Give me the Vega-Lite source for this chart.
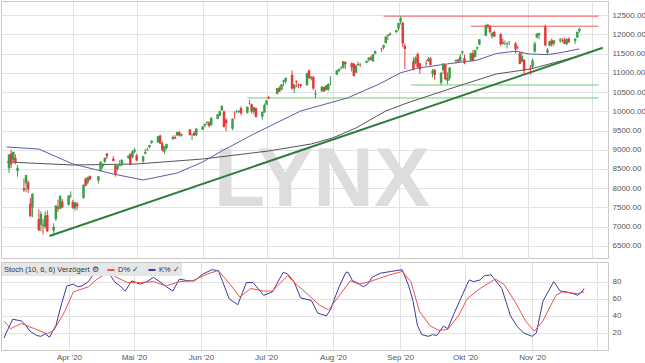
{
  "$schema": "https://vega.github.io/schema/vega-lite/v6.json",
  "padding": 0,
  "autosize": {"type": "pad"},
  "spacing": 2,
  "background": "white",
  "resolve": {"scale": {"color": "independent"}, "legend": {"color": "independent"}},
  "config": {
    "view": {"stroke": "#c8c8c8"},
    "font": "Liberation Sans",
    "axis": {"labelFont": "Liberation Sans", "labelFontSize": 8, "labelColor": "#555555", "gridColor": "#e2e2e2", "domain": false, "ticks": false, "labelOverlap": false}
  },
  "datasets": {
    "ohlc": [
      {"d":"2020-03-02","o":8520,"h":8880,"l":8400,"c":8877},
      {"d":"2020-03-03","o":8900,"h":9000,"l":8530,"c":8620},
      {"d":"2020-03-04","o":8730,"h":8950,"l":8680,"c":8945},
      {"d":"2020-03-05","o":8790,"h":8880,"l":8620,"c":8680},
      {"d":"2020-03-06","o":8450,"h":8600,"l":8300,"c":8530},
      {"d":"2020-03-09","o":8000,"h":8250,"l":7900,"c":7950},
      {"d":"2020-03-10","o":8130,"h":8350,"l":7900,"c":8340},
      {"d":"2020-03-11","o":8150,"h":8200,"l":7880,"c":7970},
      {"d":"2020-03-12","o":7600,"h":7750,"l":7260,"c":7270},
      {"d":"2020-03-13","o":7500,"h":7870,"l":7250,"c":7860},
      {"d":"2020-03-16","o":7200,"h":7450,"l":6900,"c":6905},
      {"d":"2020-03-17","o":7050,"h":7400,"l":6880,"c":7330},
      {"d":"2020-03-18","o":7050,"h":7200,"l":6800,"c":7020},
      {"d":"2020-03-19","o":7000,"h":7400,"l":6950,"c":7290},
      {"d":"2020-03-20","o":7300,"h":7420,"l":6870,"c":6880},
      {"d":"2020-03-23","o":6900,"h":7090,"l":6770,"c":6995},
      {"d":"2020-03-24","o":7200,"h":7560,"l":7150,"c":7550},
      {"d":"2020-03-25","o":7520,"h":7700,"l":7380,"c":7470},
      {"d":"2020-03-26","o":7470,"h":7820,"l":7450,"c":7800},
      {"d":"2020-03-27","o":7650,"h":7720,"l":7480,"c":7500},
      {"d":"2020-03-30","o":7570,"h":7820,"l":7550,"c":7810},
      {"d":"2020-03-31","o":7800,"h":7920,"l":7740,"c":7813},
      {"d":"2020-04-01","o":7650,"h":7700,"l":7460,"c":7490},
      {"d":"2020-04-02","o":7480,"h":7650,"l":7420,"c":7630},
      {"d":"2020-04-03","o":7600,"h":7640,"l":7440,"c":7530},
      {"d":"2020-04-06","o":7750,"h":8100,"l":7730,"c":8090},
      {"d":"2020-04-07","o":8250,"h":8270,"l":8050,"c":8070},
      {"d":"2020-04-08","o":8150,"h":8300,"l":8100,"c":8290},
      {"d":"2020-04-09","o":8320,"h":8330,"l":8200,"c":8230},
      {"d":"2020-04-13","o":8200,"h":8320,"l":8120,"c":8310},
      {"d":"2020-04-14","o":8450,"h":8700,"l":8440,"c":8690},
      {"d":"2020-04-15","o":8570,"h":8650,"l":8510,"c":8600},
      {"d":"2020-04-16","o":8690,"h":8800,"l":8650,"c":8790},
      {"d":"2020-04-17","o":8900,"h":8920,"l":8760,"c":8830},
      {"d":"2020-04-20","o":8770,"h":8830,"l":8700,"c":8710},
      {"d":"2020-04-21","o":8600,"h":8620,"l":8300,"c":8350},
      {"d":"2020-04-22","o":8500,"h":8610,"l":8460,"c":8590},
      {"d":"2020-04-23","o":8580,"h":8730,"l":8570,"c":8600},
      {"d":"2020-04-24","o":8620,"h":8750,"l":8570,"c":8740},
      {"d":"2020-04-27","o":8800,"h":8860,"l":8760,"c":8840},
      {"d":"2020-04-28","o":8900,"h":8900,"l":8600,"c":8610},
      {"d":"2020-04-29","o":8800,"h":8980,"l":8780,"c":8960},
      {"d":"2020-04-30","o":8950,"h":9050,"l":8910,"c":9000},
      {"d":"2020-05-01","o":8850,"h":8900,"l":8700,"c":8720},
      {"d":"2020-05-04","o":8700,"h":8840,"l":8650,"c":8830},
      {"d":"2020-05-05","o":8900,"h":9020,"l":8880,"c":8940},
      {"d":"2020-05-06","o":8990,"h":9050,"l":8960,"c":9000},
      {"d":"2020-05-07","o":9070,"h":9130,"l":9040,"c":9120},
      {"d":"2020-05-08","o":9180,"h":9240,"l":9150,"c":9240},
      {"d":"2020-05-11","o":9190,"h":9360,"l":9180,"c":9350},
      {"d":"2020-05-12","o":9370,"h":9390,"l":9150,"c":9160},
      {"d":"2020-05-13","o":9170,"h":9220,"l":8950,"c":9000},
      {"d":"2020-05-14","o":8950,"h":9100,"l":8890,"c":9090},
      {"d":"2020-05-15","o":9040,"h":9160,"l":9010,"c":9150},
      {"d":"2020-05-18","o":9280,"h":9370,"l":9250,"c":9330},
      {"d":"2020-05-19","o":9330,"h":9380,"l":9280,"c":9290},
      {"d":"2020-05-20","o":9370,"h":9470,"l":9360,"c":9460},
      {"d":"2020-05-21","o":9460,"h":9480,"l":9340,"c":9370},
      {"d":"2020-05-22","o":9370,"h":9420,"l":9340,"c":9410},
      {"d":"2020-05-26","o":9530,"h":9540,"l":9370,"c":9380},
      {"d":"2020-05-27","o":9400,"h":9420,"l":9250,"c":9410},
      {"d":"2020-05-28","o":9440,"h":9490,"l":9360,"c":9370},
      {"d":"2020-05-29","o":9380,"h":9560,"l":9350,"c":9550},
      {"d":"2020-06-01","o":9520,"h":9620,"l":9510,"c":9600},
      {"d":"2020-06-02","o":9630,"h":9680,"l":9580,"c":9670},
      {"d":"2020-06-03","o":9700,"h":9740,"l":9650,"c":9720},
      {"d":"2020-06-04","o":9710,"h":9740,"l":9580,"c":9620},
      {"d":"2020-06-05","o":9640,"h":9850,"l":9620,"c":9820},
      {"d":"2020-06-08","o":9800,"h":9930,"l":9790,"c":9920},
      {"d":"2020-06-09","o":9880,"h":10020,"l":9870,"c":10000},
      {"d":"2020-06-10","o":10030,"h":10160,"l":10010,"c":10130},
      {"d":"2020-06-11","o":9990,"h":10030,"l":9580,"c":9590},
      {"d":"2020-06-12","o":9780,"h":9820,"l":9480,"c":9690},
      {"d":"2020-06-15","o":9550,"h":9820,"l":9510,"c":9800},
      {"d":"2020-06-16","o":9960,"h":10000,"l":9800,"c":9950},
      {"d":"2020-06-17","o":9990,"h":10040,"l":9960,"c":10000},
      {"d":"2020-06-18","o":9980,"h":10020,"l":9950,"c":10010},
      {"d":"2020-06-19","o":10080,"h":10130,"l":9900,"c":9950},
      {"d":"2020-06-22","o":9960,"h":10120,"l":9940,"c":10120},
      {"d":"2020-06-23","o":10200,"h":10300,"l":10170,"c":10210},
      {"d":"2020-06-24","o":10180,"h":10200,"l":9940,"c":9990},
      {"d":"2020-06-25","o":9990,"h":10110,"l":9920,"c":10110},
      {"d":"2020-06-26","o":10080,"h":10090,"l":9840,"c":9850},
      {"d":"2020-06-29","o":9860,"h":9990,"l":9780,"c":9980},
      {"d":"2020-06-30","o":9970,"h":10200,"l":9960,"c":10160},
      {"d":"2020-07-01","o":10170,"h":10300,"l":10160,"c":10280},
      {"d":"2020-07-02","o":10370,"h":10400,"l":10310,"c":10340},
      {"d":"2020-07-06","o":10450,"h":10610,"l":10440,"c":10600},
      {"d":"2020-07-07","o":10600,"h":10650,"l":10500,"c":10510},
      {"d":"2020-07-08","o":10560,"h":10700,"l":10540,"c":10700},
      {"d":"2020-07-09","o":10760,"h":10820,"l":10650,"c":10800},
      {"d":"2020-07-10","o":10780,"h":10880,"l":10720,"c":10870},
      {"d":"2020-07-13","o":10950,"h":11060,"l":10560,"c":10590},
      {"d":"2020-07-14","o":10590,"h":10710,"l":10470,"c":10690},
      {"d":"2020-07-15","o":10790,"h":10800,"l":10620,"c":10760},
      {"d":"2020-07-16","o":10670,"h":10720,"l":10600,"c":10660},
      {"d":"2020-07-17","o":10700,"h":10710,"l":10610,"c":10660},
      {"d":"2020-07-20","o":10680,"h":11000,"l":10660,"c":10990},
      {"d":"2020-07-21","o":11060,"h":11080,"l":10840,"c":10860},
      {"d":"2020-07-22","o":10850,"h":10920,"l":10800,"c":10890},
      {"d":"2020-07-23","o":10890,"h":10920,"l":10550,"c":10590},
      {"d":"2020-07-24","o":10430,"h":10560,"l":10340,"c":10460},
      {"d":"2020-07-27","o":10520,"h":10650,"l":10510,"c":10640},
      {"d":"2020-07-28","o":10630,"h":10640,"l":10500,"c":10520},
      {"d":"2020-07-29","o":10550,"h":10680,"l":10540,"c":10670},
      {"d":"2020-07-30","o":10560,"h":10730,"l":10530,"c":10710},
      {"d":"2020-07-31","o":10900,"h":10910,"l":10670,"c":10905},
      {"d":"2020-08-03","o":10950,"h":11070,"l":10940,"c":11060},
      {"d":"2020-08-04","o":11050,"h":11110,"l":11010,"c":11100},
      {"d":"2020-08-05","o":11120,"h":11160,"l":11080,"c":11140},
      {"d":"2020-08-06","o":11130,"h":11300,"l":11110,"c":11300},
      {"d":"2020-08-07","o":11280,"h":11300,"l":11100,"c":11220},
      {"d":"2020-08-10","o":11250,"h":11260,"l":11030,"c":11140},
      {"d":"2020-08-11","o":11230,"h":11260,"l":10900,"c":10920},
      {"d":"2020-08-12","o":11000,"h":11210,"l":10990,"c":11190},
      {"d":"2020-08-13","o":11200,"h":11290,"l":11180,"c":11230},
      {"d":"2020-08-14","o":11230,"h":11250,"l":11150,"c":11220},
      {"d":"2020-08-17","o":11260,"h":11320,"l":11250,"c":11310},
      {"d":"2020-08-18","o":11330,"h":11400,"l":11290,"c":11390},
      {"d":"2020-08-19","o":11400,"h":11440,"l":11320,"c":11340},
      {"d":"2020-08-20","o":11300,"h":11490,"l":11280,"c":11480},
      {"d":"2020-08-21","o":11500,"h":11580,"l":11480,"c":11560},
      {"d":"2020-08-24","o":11640,"h":11650,"l":11540,"c":11630},
      {"d":"2020-08-25","o":11650,"h":11730,"l":11600,"c":11720},
      {"d":"2020-08-26","o":11770,"h":11950,"l":11760,"c":11940},
      {"d":"2020-08-27","o":11980,"h":12000,"l":11850,"c":11960},
      {"d":"2020-08-28","o":11980,"h":12050,"l":11960,"c":12020},
      {"d":"2020-08-31","o":12060,"h":12120,"l":12030,"c":12110},
      {"d":"2020-09-01","o":12150,"h":12300,"l":12100,"c":12290},
      {"d":"2020-09-02","o":12330,"h":12466,"l":12250,"c":12420},
      {"d":"2020-09-03","o":12300,"h":12320,"l":11670,"c":11760},
      {"d":"2020-09-04","o":11700,"h":11760,"l":11100,"c":11620},
      {"d":"2020-09-08","o":11300,"h":11400,"l":11060,"c":11090},
      {"d":"2020-09-09","o":11250,"h":11420,"l":11220,"c":11380},
      {"d":"2020-09-10","o":11480,"h":11530,"l":11120,"c":11150},
      {"d":"2020-09-11","o":11250,"h":11260,"l":10970,"c":11090},
      {"d":"2020-09-14","o":11250,"h":11330,"l":11180,"c":11240},
      {"d":"2020-09-15","o":11310,"h":11410,"l":11280,"c":11360},
      {"d":"2020-09-16","o":11380,"h":11410,"l":11190,"c":11200},
      {"d":"2020-09-17","o":10980,"h":11100,"l":10880,"c":11050},
      {"d":"2020-09-18","o":11080,"h":11090,"l":10820,"c":10940},
      {"d":"2020-09-21","o":10740,"h":11010,"l":10680,"c":11000},
      {"d":"2020-09-22","o":11070,"h":11250,"l":10980,"c":11240},
      {"d":"2020-09-23","o":11220,"h":11230,"l":10820,"c":10830},
      {"d":"2020-09-24","o":10790,"h":11010,"l":10700,"c":10880},
      {"d":"2020-09-25","o":10860,"h":11150,"l":10800,"c":11130},
      {"d":"2020-09-28","o":11300,"h":11350,"l":11240,"c":11330},
      {"d":"2020-09-29","o":11340,"h":11370,"l":11260,"c":11290},
      {"d":"2020-09-30","o":11300,"h":11490,"l":11290,"c":11420},
      {"d":"2020-10-01","o":11520,"h":11570,"l":11460,"c":11560},
      {"d":"2020-10-02","o":11380,"h":11470,"l":11220,"c":11250},
      {"d":"2020-10-05","o":11300,"h":11520,"l":11300,"c":11510},
      {"d":"2020-10-06","o":11510,"h":11590,"l":11290,"c":11310},
      {"d":"2020-10-07","o":11410,"h":11600,"l":11400,"c":11590},
      {"d":"2020-10-08","o":11630,"h":11680,"l":11590,"c":11660},
      {"d":"2020-10-09","o":11730,"h":11870,"l":11720,"c":11870},
      {"d":"2020-10-12","o":11960,"h":12250,"l":11950,"c":12240},
      {"d":"2020-10-13","o":12250,"h":12270,"l":12150,"c":12200},
      {"d":"2020-10-14","o":12210,"h":12230,"l":12020,"c":12060},
      {"d":"2020-10-15","o":11940,"h":12060,"l":11890,"c":12030},
      {"d":"2020-10-16","o":12060,"h":12090,"l":11940,"c":11940},
      {"d":"2020-10-19","o":12000,"h":12030,"l":11700,"c":11740},
      {"d":"2020-10-20","o":11800,"h":11880,"l":11730,"c":11760},
      {"d":"2020-10-21","o":11740,"h":11840,"l":11720,"c":11750},
      {"d":"2020-10-22","o":11750,"h":11790,"l":11630,"c":11770},
      {"d":"2020-10-23","o":11800,"h":11820,"l":11720,"c":11810},
      {"d":"2020-10-26","o":11760,"h":11800,"l":11500,"c":11610},
      {"d":"2020-10-27","o":11650,"h":11700,"l":11600,"c":11660},
      {"d":"2020-10-28","o":11510,"h":11540,"l":11220,"c":11230},
      {"d":"2020-10-29","o":11290,"h":11560,"l":11270,"c":11430},
      {"d":"2020-10-30","o":11340,"h":11350,"l":10950,"c":11050},
      {"d":"2020-11-02","o":11130,"h":11200,"l":10950,"c":11100},
      {"d":"2020-11-03","o":11150,"h":11370,"l":11120,"c":11320},
      {"d":"2020-11-04","o":11550,"h":11810,"l":11520,"c":11760},
      {"d":"2020-11-05","o":11920,"h":12030,"l":11890,"c":12010},
      {"d":"2020-11-06","o":11980,"h":12040,"l":11870,"c":12030},
      {"d":"2020-11-09","o":12200,"h":12250,"l":11690,"c":11710},
      {"d":"2020-11-10","o":11520,"h":11640,"l":11480,"c":11600},
      {"d":"2020-11-11","o":11700,"h":11830,"l":11690,"c":11820},
      {"d":"2020-11-12","o":11840,"h":11890,"l":11680,"c":11740},
      {"d":"2020-11-13","o":11760,"h":11850,"l":11700,"c":11840},
      {"d":"2020-11-16","o":11830,"h":11900,"l":11780,"c":11870},
      {"d":"2020-11-17","o":11850,"h":11900,"l":11780,"c":11840},
      {"d":"2020-11-18","o":11860,"h":11900,"l":11750,"c":11750},
      {"d":"2020-11-19","o":11740,"h":11890,"l":11720,"c":11880},
      {"d":"2020-11-20","o":11880,"h":11920,"l":11780,"c":11790},
      {"d":"2020-11-23","o":11830,"h":11900,"l":11750,"c":11880},
      {"d":"2020-11-24","o":11920,"h":12080,"l":11900,"c":12060},
      {"d":"2020-11-25","o":12080,"h":12170,"l":12040,"c":12140}
    ],
    "ma": [
      {"d":"2020-03-01","s":"MA50","p":9071},
      {"d":"2020-03-16","s":"MA50","p":9019},
      {"d":"2020-04-01","s":"MA50","p":8630},
      {"d":"2020-04-20","s":"MA50","p":8370},
      {"d":"2020-05-04","s":"MA50","p":8214},
      {"d":"2020-05-20","s":"MA50","p":8396},
      {"d":"2020-06-01","s":"MA50","p":8682},
      {"d":"2020-06-10","s":"MA50","p":8968},
      {"d":"2020-06-25","s":"MA50","p":9409},
      {"d":"2020-07-17","s":"MA50","p":10006},
      {"d":"2020-08-08","s":"MA50","p":10344},
      {"d":"2020-08-23","s":"MA50","p":10708},
      {"d":"2020-09-02","s":"MA50","p":11000},
      {"d":"2020-09-10","s":"MA50","p":11120},
      {"d":"2020-09-24","s":"MA50","p":11230},
      {"d":"2020-10-08","s":"MA50","p":11330},
      {"d":"2020-10-17","s":"MA50","p":11500},
      {"d":"2020-10-26","s":"MA50","p":11560},
      {"d":"2020-11-01","s":"MA50","p":11490},
      {"d":"2020-11-10","s":"MA50","p":11470},
      {"d":"2020-11-17","s":"MA50","p":11530},
      {"d":"2020-11-25","s":"MA50","p":11620},
      {"d":"2020-03-01","s":"MA200","p":8682},
      {"d":"2020-04-01","s":"MA200","p":8604},
      {"d":"2020-05-01","s":"MA200","p":8630},
      {"d":"2020-06-01","s":"MA200","p":8760},
      {"d":"2020-07-02","s":"MA200","p":8968},
      {"d":"2020-07-22","s":"MA200","p":9150},
      {"d":"2020-08-01","s":"MA200","p":9305},
      {"d":"2020-08-12","s":"MA200","p":9565},
      {"d":"2020-08-26","s":"MA200","p":10006},
      {"d":"2020-09-05","s":"MA200","p":10214},
      {"d":"2020-10-02","s":"MA200","p":10708},
      {"d":"2020-10-17","s":"MA200","p":10968},
      {"d":"2020-11-02","s":"MA200","p":11097},
      {"d":"2020-11-25","s":"MA200","p":11435}
    ],
    "levels": [
      {"k":"r","a":"2020-08-25","b":"2020-12-04","p":12470},
      {"k":"r","a":"2020-10-05","b":"2020-12-04","p":12210},
      {"k":"g","a":"2020-09-07","b":"2020-12-04","p":10682},
      {"k":"g","a":"2020-06-22","b":"2020-12-04","p":10344}
    ],
    "trend": [
      {"d":"2020-03-21","p":6760},
      {"d":"2020-12-06","p":11650}
    ],
    "stoch": [
      {"d":"2020-03-02","s":"K%","v":14},{"d":"2020-03-03","s":"K%","v":20},{"d":"2020-03-06","s":"K%","v":36},{"d":"2020-03-10","s":"K%","v":34},
      {"d":"2020-03-12","s":"K%","v":29},{"d":"2020-03-14","s":"K%","v":22},{"d":"2020-03-17","s":"K%","v":17},{"d":"2020-03-19","s":"K%","v":16},
      {"d":"2020-03-21","s":"K%","v":19},{"d":"2020-03-23","s":"K%","v":15},{"d":"2020-03-26","s":"K%","v":29},{"d":"2020-03-28","s":"K%","v":49},
      {"d":"2020-03-31","s":"K%","v":75},{"d":"2020-04-03","s":"K%","v":77},{"d":"2020-04-05","s":"K%","v":74},{"d":"2020-04-07","s":"K%","v":75},
      {"d":"2020-04-10","s":"K%","v":80},{"d":"2020-04-13","s":"K%","v":91},{"d":"2020-04-16","s":"K%","v":94},{"d":"2020-04-19","s":"K%","v":92},
      {"d":"2020-04-22","s":"K%","v":80},{"d":"2020-04-25","s":"K%","v":74},{"d":"2020-04-27","s":"K%","v":69},{"d":"2020-04-30","s":"K%","v":81},
      {"d":"2020-05-04","s":"K%","v":77},{"d":"2020-05-07","s":"K%","v":80},{"d":"2020-05-10","s":"K%","v":85},{"d":"2020-05-13","s":"K%","v":80},
      {"d":"2020-05-16","s":"K%","v":74},{"d":"2020-05-19","s":"K%","v":69},{"d":"2020-05-22","s":"K%","v":83},{"d":"2020-05-26","s":"K%","v":81},
      {"d":"2020-05-29","s":"K%","v":81},{"d":"2020-06-02","s":"K%","v":89},{"d":"2020-06-06","s":"K%","v":94},{"d":"2020-06-09","s":"K%","v":93},
      {"d":"2020-06-11","s":"K%","v":80},{"d":"2020-06-14","s":"K%","v":60},{"d":"2020-06-18","s":"K%","v":53},{"d":"2020-06-22","s":"K%","v":79},
      {"d":"2020-06-25","s":"K%","v":79},{"d":"2020-06-30","s":"K%","v":64},{"d":"2020-07-04","s":"K%","v":68},{"d":"2020-07-09","s":"K%","v":91},
      {"d":"2020-07-11","s":"K%","v":89},{"d":"2020-07-14","s":"K%","v":80},{"d":"2020-07-17","s":"K%","v":61},{"d":"2020-07-22","s":"K%","v":58},
      {"d":"2020-07-25","s":"K%","v":43},{"d":"2020-07-29","s":"K%","v":40},{"d":"2020-07-31","s":"K%","v":48},{"d":"2020-08-02","s":"K%","v":62},
      {"d":"2020-08-04","s":"K%","v":75},{"d":"2020-08-07","s":"K%","v":91},{"d":"2020-08-08","s":"K%","v":91},{"d":"2020-08-10","s":"K%","v":81},
      {"d":"2020-08-12","s":"K%","v":79},{"d":"2020-08-15","s":"K%","v":74},{"d":"2020-08-17","s":"K%","v":77},{"d":"2020-08-19","s":"K%","v":85},
      {"d":"2020-08-23","s":"K%","v":90},{"d":"2020-08-28","s":"K%","v":92},{"d":"2020-09-02","s":"K%","v":94},{"d":"2020-09-05","s":"K%","v":75},
      {"d":"2020-09-07","s":"K%","v":57},{"d":"2020-09-09","s":"K%","v":29},{"d":"2020-09-11","s":"K%","v":18},{"d":"2020-09-14","s":"K%","v":16},
      {"d":"2020-09-16","s":"K%","v":18},{"d":"2020-09-18","s":"K%","v":17},{"d":"2020-09-21","s":"K%","v":28},{"d":"2020-09-23","s":"K%","v":25},
      {"d":"2020-09-26","s":"K%","v":43},{"d":"2020-09-29","s":"K%","v":60},{"d":"2020-10-02","s":"K%","v":77},{"d":"2020-10-03","s":"K%","v":82},
      {"d":"2020-10-05","s":"K%","v":80},{"d":"2020-10-08","s":"K%","v":82},{"d":"2020-10-10","s":"K%","v":87},{"d":"2020-10-13","s":"K%","v":88},
      {"d":"2020-10-14","s":"K%","v":85},{"d":"2020-10-18","s":"K%","v":72},{"d":"2020-10-22","s":"K%","v":40},{"d":"2020-10-25","s":"K%","v":28},
      {"d":"2020-10-28","s":"K%","v":20},{"d":"2020-11-01","s":"K%","v":16},{"d":"2020-11-03","s":"K%","v":20},{"d":"2020-11-06","s":"K%","v":57},
      {"d":"2020-11-11","s":"K%","v":80},{"d":"2020-11-14","s":"K%","v":69},{"d":"2020-11-17","s":"K%","v":68},{"d":"2020-11-20","s":"K%","v":66},
      {"d":"2020-11-22","s":"K%","v":64},{"d":"2020-11-24","s":"K%","v":68},{"d":"2020-11-25","s":"K%","v":72},
      {"d":"2020-03-02","s":"D%","v":34},{"d":"2020-03-05","s":"D%","v":25},{"d":"2020-03-10","s":"D%","v":31},{"d":"2020-03-16","s":"D%","v":25},
      {"d":"2020-03-22","s":"D%","v":19},{"d":"2020-03-25","s":"D%","v":23},{"d":"2020-03-30","s":"D%","v":45},{"d":"2020-04-03","s":"D%","v":68},
      {"d":"2020-04-10","s":"D%","v":74},{"d":"2020-04-14","s":"D%","v":83},{"d":"2020-04-19","s":"D%","v":91},{"d":"2020-04-23","s":"D%","v":85},
      {"d":"2020-04-28","s":"D%","v":79},{"d":"2020-05-04","s":"D%","v":79},{"d":"2020-05-10","s":"D%","v":80},{"d":"2020-05-16","s":"D%","v":75},
      {"d":"2020-05-22","s":"D%","v":80},{"d":"2020-05-28","s":"D%","v":81},{"d":"2020-06-04","s":"D%","v":89},{"d":"2020-06-09","s":"D%","v":93},
      {"d":"2020-06-15","s":"D%","v":75},{"d":"2020-06-19","s":"D%","v":62},{"d":"2020-06-24","s":"D%","v":72},{"d":"2020-06-30","s":"D%","v":69},
      {"d":"2020-07-04","s":"D%","v":69},{"d":"2020-07-11","s":"D%","v":87},{"d":"2020-07-15","s":"D%","v":77},{"d":"2020-07-20","s":"D%","v":66},
      {"d":"2020-07-26","s":"D%","v":52},{"d":"2020-07-30","s":"D%","v":47},{"d":"2020-08-04","s":"D%","v":64},{"d":"2020-08-09","s":"D%","v":81},
      {"d":"2020-08-13","s":"D%","v":77},{"d":"2020-08-18","s":"D%","v":80},{"d":"2020-08-26","s":"D%","v":87},{"d":"2020-09-02","s":"D%","v":92},
      {"d":"2020-09-06","s":"D%","v":80},{"d":"2020-09-10","s":"D%","v":45},{"d":"2020-09-15","s":"D%","v":28},{"d":"2020-09-19","s":"D%","v":23},
      {"d":"2020-09-23","s":"D%","v":24},{"d":"2020-09-28","s":"D%","v":40},{"d":"2020-10-02","s":"D%","v":60},{"d":"2020-10-08","s":"D%","v":72},
      {"d":"2020-10-15","s":"D%","v":83},{"d":"2020-10-19","s":"D%","v":77},{"d":"2020-10-24","s":"D%","v":57},{"d":"2020-10-29","s":"D%","v":34},
      {"d":"2020-11-02","s":"D%","v":22},{"d":"2020-11-06","s":"D%","v":34},{"d":"2020-11-12","s":"D%","v":64},{"d":"2020-11-15","s":"D%","v":68},
      {"d":"2020-11-22","s":"D%","v":66},{"d":"2020-11-25","s":"D%","v":68}
    ]
  },
  "vconcat": [
    {
      "width": 607,
      "height": 257,
      "layer": [
        {
          "data": {"values": [{}]},
          "mark": {"type": "text", "text": "LYNX", "font": "Liberation Sans", "fontWeight": "bold", "fontSize": 84, "fill": "#dddddd", "align": "center", "baseline": "middle"},
          "encoding": {
            "x": {"datum": {"year": 2020, "month": 7, "date": 27, "utc": true}, "type": "temporal"},
            "y": {"datum": 8200, "type": "quantitative"}
          }
        },
        {
          "data": {"name": "levels"},
          "transform": [{"filter": "datum.k == 'g'"}],
          "mark": {"type": "rule", "color": "#6fcf6f", "strokeWidth": 1},
          "encoding": {
            "x": {"field": "a", "type": "temporal"},
            "x2": {"field": "b"},
            "y": {"field": "p", "type": "quantitative"}
          }
        },
        {
          "data": {"name": "levels"},
          "transform": [{"filter": "datum.k == 'r'"}],
          "mark": {"type": "rule", "color": "#ee5c5c", "strokeWidth": 1},
          "encoding": {
            "x": {"field": "a", "type": "temporal"},
            "x2": {"field": "b"},
            "y": {"field": "p", "type": "quantitative"}
          }
        },
        {
          "data": {"name": "ma"},
          "transform": [{"filter": "datum.s == 'MA200'"}],
          "mark": {"type": "line", "color": "#555555", "strokeWidth": 1, "clip": true},
          "encoding": {
            "x": {"field": "d", "type": "temporal"},
            "y": {"field": "p", "type": "quantitative"}
          }
        },
        {
          "data": {"name": "ma"},
          "transform": [{"filter": "datum.s == 'MA50'"}],
          "mark": {"type": "line", "color": "#5c5ca8", "strokeWidth": 1, "clip": true},
          "encoding": {
            "x": {"field": "d", "type": "temporal"},
            "y": {"field": "p", "type": "quantitative"}
          }
        },
        {
          "data": {"name": "trend"},
          "mark": {"type": "line", "color": "#2e7d3a", "strokeWidth": 2, "clip": true},
          "encoding": {
            "x": {"field": "d", "type": "temporal"},
            "y": {"field": "p", "type": "quantitative"}
          }
        },
        {
          "data": {"name": "ohlc"},
          "mark": {"type": "rule", "strokeWidth": 1},
          "encoding": {
            "x": {"field": "d", "type": "temporal",
              "scale": {"type": "utc", "domain": [{"year": 2020, "month": 2, "date": 29, "hours": 14, "utc": true}, {"year": 2020, "month": 12, "date": 6, "hours": 2, "utc": true}]},
              "axis": {"title": null, "labels": false, "grid": true, "tickCount": 30,
                "values": [{"year":2020,"month":4,"date":1,"utc":true},{"year":2020,"month":5,"date":1,"utc":true},{"year":2020,"month":6,"date":1,"utc":true},{"year":2020,"month":7,"date":1,"utc":true},{"year":2020,"month":8,"date":1,"utc":true},{"year":2020,"month":9,"date":1,"utc":true},{"year":2020,"month":10,"date":1,"utc":true},{"year":2020,"month":11,"date":1,"utc":true},{"year":2020,"month":12,"date":1,"utc":true}]}},
            "y": {"field": "l", "type": "quantitative",
              "scale": {"domain": [6188, 12864], "nice": false, "zero": false},
              "axis": {"title": null, "orient": "right", "format": ".2f", "labelPadding": 4, "grid": true, "labelOverlap": false, "tickCount": 30, "labelFontSize": 8,
                "values": [6500, 7000, 7500, 8000, 8500, 9000, 9500, 10000, 10500, 11000, 11500, 12000, 12500]}},
            "y2": {"field": "h"},
            "color": {"condition": {"test": "datum.c >= datum.o", "value": "#3a9e45"}, "value": "#e23b3b"}
          }
        },
        {
          "data": {"name": "ohlc"},
          "mark": {"type": "bar", "size": 2.5},
          "encoding": {
            "x": {"field": "d", "type": "temporal"},
            "y": {"field": "o", "type": "quantitative"},
            "y2": {"field": "c"},
            "color": {"condition": {"test": "datum.c >= datum.o", "value": "#3a9e45"}, "value": "#e23b3b"}
          }
        }
      ]
    },
    {
      "width": 607,
      "height": 88,
      "data": {"name": "stoch"},
      "mark": {"type": "line", "strokeWidth": 1, "clip": true},
      "encoding": {
        "x": {"field": "d", "type": "temporal",
          "scale": {"type": "utc", "domain": [{"year": 2020, "month": 2, "date": 29, "hours": 14, "utc": true}, {"year": 2020, "month": 12, "date": 6, "hours": 2, "utc": true}]},
          "axis": {"title": null, "grid": true, "labelPadding": 3, "tickCount": 30,
            "values": [{"year":2020,"month":4,"date":1,"utc":true},{"year":2020,"month":5,"date":1,"utc":true},{"year":2020,"month":6,"date":1,"utc":true},{"year":2020,"month":7,"date":1,"utc":true},{"year":2020,"month":8,"date":1,"utc":true},{"year":2020,"month":9,"date":1,"utc":true},{"year":2020,"month":10,"date":1,"utc":true},{"year":2020,"month":11,"date":1,"utc":true},{"year":2020,"month":12,"date":1,"utc":true}],
            "labelExpr": "utcmonth(datum.value) == 11 ? '' : ['Jan','Feb','Mär','Apr','Mai','Jun','Jul','Aug','Sep','Okt','Nov','Dez'][utcmonth(datum.value)] + \" '20\""}},
        "y": {"field": "v", "type": "quantitative",
          "scale": {"domain": [0, 103], "nice": false},
          "axis": {"title": null, "orient": "right", "values": [20, 40, 60, 80], "tickCount": 10, "labelPadding": 4, "grid": true}},
        "color": {"field": "s", "type": "nominal",
          "scale": {"domain": ["D%", "K%"], "range": ["#e8534f", "#3b3b9a"]},
          "legend": {"orient": "top-left", "direction": "horizontal", "title": "Stoch   (10, 6, 6) Verzögert ⚙", "titleOrient": "left", "titleFontSize": 7.5, "titleFontWeight": "normal", "titleColor": "#333333", "titleFont": "Liberation Sans", "labelFont": "Liberation Sans", "labelFontSize": 7.5, "labelColor": "#333333", "fillColor": "#e6e6e6", "padding": 2, "offset": 1, "symbolType": "stroke", "symbolSize": 50, "symbolStrokeWidth": 2, "labelExpr": "datum.label + ' ✓'", "columnPadding": 4, "titlePadding": 3, "labelOffset": 2}}
      }
    }
  ]
}
